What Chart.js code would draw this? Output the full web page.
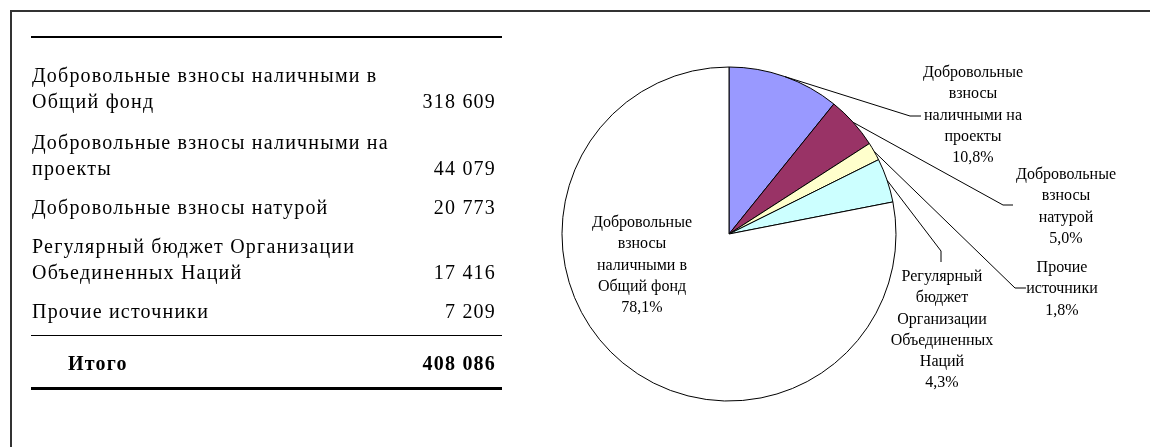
<!DOCTYPE html>
<html lang="ru">
<head>
<meta charset="utf-8">
<script src="https://cdn.jsdelivr.net/npm/chart.js@4.4.1/dist/chart.umd.min.js"></script>
<style>
  html, body { margin: 0; padding: 0; background: #fff; }
  body { width: 1150px; height: 447px; position: relative; overflow: hidden;
         font-family: "Liberation Serif", "Times New Roman", serif; color: #000; }
  .frame { position: absolute; left: 10px; top: 10px; width: 1200px; height: 500px;
           border-top: 2px solid #333; border-left: 2px solid #333; }
  #pie { position: absolute; left: 0; top: 0; }
  .tbl { position: absolute; left: 31px; top: 36px; width: 471px; border-top: 2px solid #000;
         font-size: 20px; line-height: 26px; letter-spacing: 1.2px; }
  .row { display: flex; margin-top: 13px; }
  .row:first-child { margin-top: 24px; }
  .row:nth-child(2) { margin-top: 15px; }
  .row .name { width: 380px; padding-left: 1px; }
  .row .val { flex: 1; text-align: right; align-self: flex-end; padding-right: 6px; }
  .mid-rule { margin-top: 11px; border-top: 1.5px solid #000; }
  .total { display: flex; margin-top: 14px; font-weight: bold; }
  .total .name { width: 380px; padding-left: 37px; }
  .total .val { flex: 1; text-align: right; padding-right: 6px; }
  .bottom-rule { margin-top: 11px; border-top: 3px solid #000; }
</style>
</head>
<body>
<div class="frame"></div>
<canvas id="pie" width="1150" height="447"></canvas>
<div class="tbl" id="tbl"></div>

<script>
// table rows (thousands)
const CATEGORIES = [
  'Добровольные взносы наличными в Общий фонд',
  'Добровольные взносы наличными на проекты',
  'Добровольные взносы натурой',
  'Регулярный бюджет Организации Объединенных Наций',
  'Прочие источники',
];
const VALUES = [318609, 44079, 20773, 17416, 7209];
const TOTAL_LABEL = 'Итого';
const TOTAL = 408086;

// pie slices, clockwise from 12 o'clock
const PIE_ORDER = [1, 2, 4, 3, 0];
const PIE_COLORS = ['#9999FF', '#993366', '#FFFFCC', '#CCFFFF', '#FFFFFF'];
const PIE_PERCENTS = ['10,8%', '5,0%', '1,8%', '4,3%', '78,1%'];
const PIE_LABEL_LINES = [
  ['Добровольные', 'взносы', 'наличными на', 'проекты'],
  ['Добровольные', 'взносы', 'натурой'],
  ['Прочие', 'источники'],
  ['Регулярный', 'бюджет', 'Организации', 'Объединенных', 'Наций'],
  ['Добровольные', 'взносы', 'наличными в', 'Общий фонд'],
];

// label placement relative to pie centre: text centre/first line, leader elbow and end
const LABEL_LAYOUT = [
  { dx: 244, dy: -161, elbow: [181, -118], end: [192, -118] },
  { dx: 337, dy: -59,  elbow: [274, -29],  end: [284, -29] },
  { dx: 333, dy: 34,   elbow: [286, 54],   end: [297, 54] },
  { dx: 213, dy: 43,   elbow: [212, 17],   end: [212, 28] },
  { dx: -87, dy: -11,  elbow: null,        end: null },
];
const LINE_H = 21.2;

function fmt(n) {
  return n.toString().replace(/\B(?=(\d{3})+(?!\d))/g, '\u00a0');
}

// --- table ---
const tbl = document.getElementById('tbl');
tbl.innerHTML = CATEGORIES.map((c, i) => `
  <div class="row"><div class="name">${c}</div><div class="val">${fmt(VALUES[i])}</div></div>
`).join('') + `
  <div class="mid-rule"></div>
  <div class="total"><div class="name">${TOTAL_LABEL}</div><div class="val">${fmt(TOTAL)}</div></div>
  <div class="bottom-rule"></div>
`;

// --- pie labels with leader lines ---
const pieLabels = {
  id: 'pieLabels',
  afterDatasetsDraw(chart) {
    const ctx = chart.ctx;
    const meta = chart.getDatasetMeta(0);
    ctx.save();
    ctx.font = '16px "Liberation Serif", "Times New Roman", serif';
    ctx.fillStyle = '#000';
    ctx.strokeStyle = '#000';
    ctx.lineWidth = 1;
    ctx.textAlign = 'center';
    ctx.textBaseline = 'middle';
    meta.data.forEach((arc, i) => {
      const p = arc.getProps(['x', 'y', 'startAngle', 'endAngle', 'outerRadius'], true);
      const lay = LABEL_LAYOUT[i];
      const mid = (p.startAngle + p.endAngle) / 2;
      if (lay.elbow) {
        ctx.beginPath();
        ctx.moveTo(p.x + p.outerRadius * Math.cos(mid), p.y + p.outerRadius * Math.sin(mid));
        ctx.lineTo(p.x + lay.elbow[0], p.y + lay.elbow[1]);
        ctx.lineTo(p.x + lay.end[0], p.y + lay.end[1]);
        ctx.stroke();
      }
      const lines = PIE_LABEL_LINES[i].concat([PIE_PERCENTS[i]]);
      lines.forEach((t, k) => {
        ctx.fillText(t, p.x + lay.dx, p.y + lay.dy + k * LINE_H);
      });
    });
    ctx.restore();
  },
};

new Chart(document.getElementById('pie').getContext('2d'), {
  type: 'pie',
  data: {
    labels: PIE_ORDER.map((i) => CATEGORIES[i]),
    datasets: [{
      data: PIE_ORDER.map((i) => VALUES[i]),
      backgroundColor: PIE_COLORS,
      borderColor: '#000',
      borderWidth: 1,
      radius: 167,
    }],
  },
  options: {
    responsive: false,
    animation: false,
    layout: { padding: { left: 308, right: 0, top: 21, bottom: 0 } },
    plugins: { legend: { display: false }, tooltip: { enabled: false } },
  },
  plugins: [pieLabels],
});
</script>
</body>
</html>
